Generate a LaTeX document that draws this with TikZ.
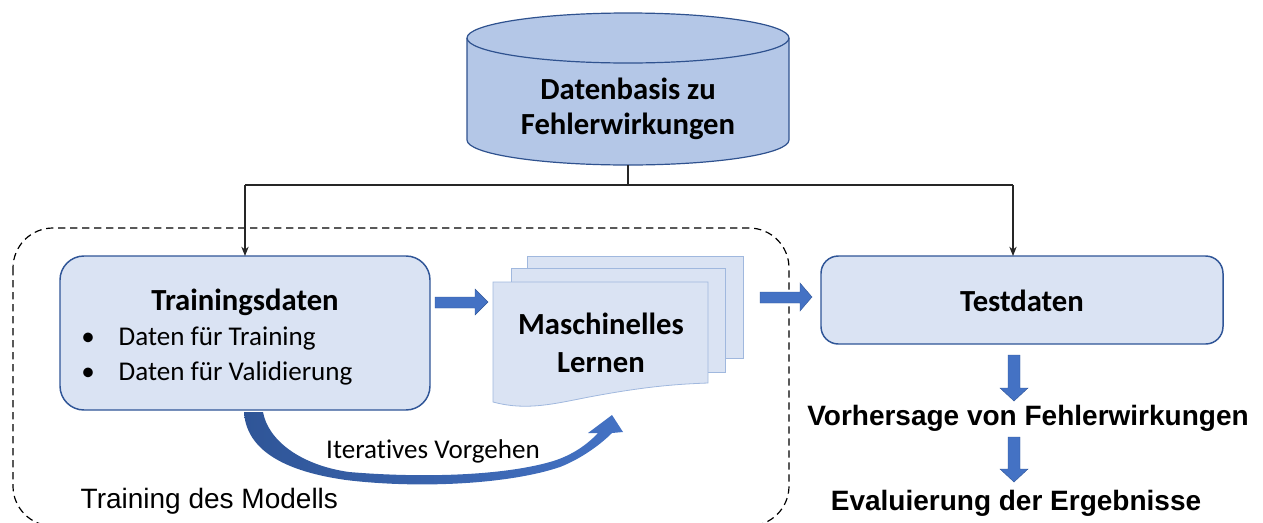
\documentclass[tikz,border=0pt]{standalone}
\usepackage{fontspec}
\setmainfont{Carlito}[Ligatures=NoCommon]
\newfontfamily\arialfont{Liberation Sans}
\usetikzlibrary{arrows.meta}
\definecolor{boxfill}{RGB}{218,227,243}
\definecolor{boxline}{RGB}{47,85,151}
\definecolor{dbfill}{RGB}{180,199,231}
\definecolor{dbline}{RGB}{47,82,143}
\definecolor{pageline}{RGB}{160,184,222}
\definecolor{arrowblue}{RGB}{68,114,196}
\definecolor{arrowdark}{RGB}{47,85,151}
\tikzset{
  roundbox/.style={draw=boxline, line width=1.1pt, fill=boxfill},
  page/.style={draw=pageline, line width=0.6pt, fill=boxfill},
  fatarrow/.style={fill=arrowblue, draw=arrowdark, line width=0.3pt},
  link/.style={draw=black!85, line width=0.9pt},
  linkarrow/.style={link, -{Stealth[length=7pt,width=5.5pt]}},
  bigbold/.style={font=\fontsize{23}{28}\selectfont\bfseries, anchor=base},
  plain/.style={font=\fontsize{20.3}{24}\selectfont, anchor=base},
  arialbold/.style={font=\arialfont\fontsize{21}{25}\selectfont\bfseries, anchor=base},
  arialplain/.style={font=\arialfont\fontsize{21}{25}\selectfont, anchor=base west},
}
\begin{document}
\begin{tikzpicture}[x=0.75pt, y=-0.75pt]
\useasboundingbox (0,0) rectangle (1263,522);

% dashed frame around the training stage
\draw[black, line width=0.9pt, dash pattern=on 5.5pt off 3.5pt, rounded corners=30pt]
  (13,228) rectangle (789,526);

% database cylinder (y axis points down, so angle 90 is below the centre)
\fill[dbfill] (467,38) -- (467,140) arc[start angle=180, end angle=0, x radius=161, y radius=25]
  -- (789,38) arc[start angle=0, end angle=-180, x radius=161, y radius=25] -- cycle;
\draw[dbline, line width=0.9pt] (467,38) -- (467,140) arc[start angle=180, end angle=0, x radius=161, y radius=25] -- (789,38);
\draw[dbline, line width=0.9pt] (628,38) ellipse[x radius=161, y radius=25];
\node[bigbold] (db1) at (628,99) {Datenbasis zu};
\node[bigbold] (db2) at (628,134) {Fehlerwirkungen};
\coordinate (dbbot) at (628,165);

% training data
\draw[roundbox, rounded corners=18pt] (60,256) rectangle (430,410);
\coordinate (trtop) at (245,256);
\node[bigbold] (tr) at (245,310) {Trainingsdaten};
\node[plain] (b1) at (88,345) {\textbullet};
\node[plain, anchor=base west] (t1) at (114,345) {Daten für Training};
\node[plain] (b2) at (88,380) {\textbullet};
\node[plain, anchor=base west] (t2) at (114,380) {Daten für Validierung};

% stacked pages: machine learning
\draw[page] (527,256) rectangle (743,358);
\draw[page] (511,268) rectangle (725,372);
\draw[page] (493,402) -- (493,282) -- (708,282) -- (708,383)
  .. controls (680,384) and (650,386) .. (600,395)
  .. controls (560,402) and (530,412) .. (493,402) -- cycle;
\node[bigbold] (ml1) at (601,334) {Maschinelles};
\node[bigbold] (ml2) at (601,372) {Lernen};

% test data
\draw[roundbox, rounded corners=13pt] (821,256) rectangle (1223,344);
\coordinate (tetop) at (1013,256);
\node[bigbold] (te) at (1022,311) {Testdaten};

% results
\node[arialbold] (vh) at (1028,425) {Vorhersage von Fehlerwirkungen};
\node[arialbold] (ev) at (1016,510) {Evaluierung der Ergebnisse};

% labels
\node[plain] (it) at (433,458) {Iteratives Vorgehen};
\node[arialplain] (tm) at (76,508) {Training des Modells};

% thin connectors from the database
\coordinate (split) at (628,185);
\coordinate (left) at (245,185);
\coordinate (right) at (1013,185);
\draw[link] (dbbot) -- (split);
\draw[link] (left) -- (right);
\draw[linkarrow] (left) -- (trtop);
\draw[linkarrow] (right) -- (tetop);

% block arrows
\draw[fatarrow] (435,297) -- (475,297) -- (475,289) -- (488,302) -- (475,315) -- (475,308) -- (435,308) -- cycle;
\draw[fatarrow] (760,292) -- (800,292) -- (800,283) -- (812,297) -- (800,311) -- (800,303) -- (760,303) -- cycle;
\draw[fatarrow] (1008,355) -- (1020,355) -- (1020,388) -- (1028,388) -- (1014,401) -- (1000,388) -- (1008,388) -- cycle;
\draw[fatarrow] (1008,437) -- (1020,437) -- (1020,469) -- (1028,469) -- (1014,482) -- (1000,469) -- (1008,469) -- cycle;

% curved iteration arrow
\shade[left color=arrowdark, right color=arrowblue]
  (244,412) .. controls (246,445) and (275,470) .. (346,480)
  .. controls (420,489) and (510,484) .. (560,467)
  .. controls (578,460) and (598,447) .. (612,433)
  -- (623,432) -- (612,415) -- (588,433) -- (598,433)
  .. controls (585,447) and (568,457) .. (550,462)
  .. controls (500,476) and (420,478) .. (349,472)
  .. controls (300,465) and (268,440) .. (263,412) -- cycle;
\end{tikzpicture}
\end{document}
